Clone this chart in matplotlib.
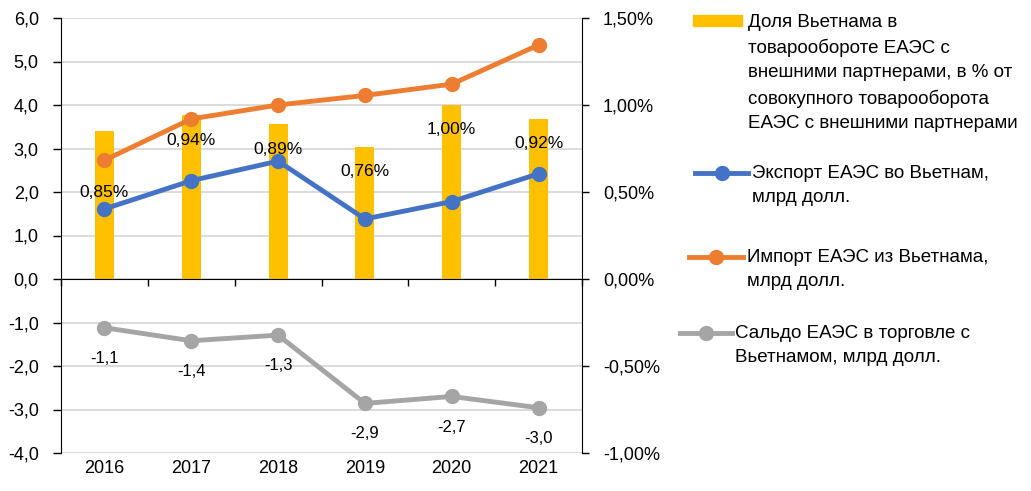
import numpy as np
import matplotlib
matplotlib.use("Agg")
import matplotlib.pyplot as plt
from matplotlib.lines import Line2D
from matplotlib.patches import Rectangle
from matplotlib.ticker import FuncFormatter

plt.rcParams['font.family'] = ['Liberation Sans', 'DejaVu Sans']

years = ['2016', '2017', '2018', '2019', '2020', '2021']
export_bn = [1.61, 2.26, 2.71, 1.38, 1.78, 2.42]     # экспорт ЕАЭС во Вьетнам
import_bn = [2.73, 3.68, 4.00, 4.22, 4.48, 5.38]     # импорт ЕАЭС из Вьетнама
balance_bn = [-1.12, -1.42, -1.29, -2.86, -2.70, -2.96]
share_pct = [0.85, 0.94, 0.89, 0.76, 1.00, 0.92]      # доля Вьетнама, %

YELLOW = '#FFC000'
BLUE = '#4472C4'
ORANGE = '#ED7D31'
GRAY = '#A5A5A5'
GRID = '#D9D9D9'


def comma(v, fmt):
    return format(v, fmt).replace('.', ',')


fig = plt.figure(figsize=(10.31, 4.91), dpi=100)
W, H = 1031, 491
ax = fig.add_axes([61 / W, (H - 453) / H, 521 / W, 435 / H])
ax2 = ax.twinx()
ax.set_zorder(ax2.get_zorder() + 1)
ax.patch.set_visible(False)

x = np.arange(len(years))

# bars on the right (percent) axis
ax2.bar(x, share_pct, width=0.22, color=YELLOW, zorder=2)
ax2.set_ylim(-1.0, 1.5)
ax2.set_yticks(np.arange(-1.0, 1.51, 0.5))
ax2.set_yticks(np.arange(-1.0, 1.51, 0.25), minor=True)
ax2.yaxis.set_major_formatter(FuncFormatter(lambda v, p: comma(v, '.2f') + '%'))
ax2.grid(axis='y', which='both', color=GRID, linewidth=1.3)
ax2.set_axisbelow(True)
ax2.tick_params(axis='y', which='major', direction='out', length=5, width=1,
                pad=10, labelsize=13, colors='black')
ax2.tick_params(axis='y', which='minor', length=0)
for s in ['top', 'bottom', 'left']:
    ax2.spines[s].set_visible(False)
ax2.spines['right'].set_color('black')

dy = [-44, -18, -18, -18, -18, -18]
for i, v in enumerate(share_pct):
    ax2.annotate(comma(v, '.2f') + '%', (x[i], v), xytext=(0, dy[i]),
                 textcoords='offset points', ha='center', va='center',
                 fontsize=12.5, zorder=3)

# lines on the left axis
line_kw = dict(linewidth=3.5, marker='o', markersize=10, solid_capstyle='round')
ax.plot(x, export_bn, color=BLUE, **line_kw)
ax.plot(x, import_bn, color=ORANGE, **line_kw)
ax.plot(x, balance_bn, color=GRAY, **line_kw)
for i, v in enumerate(balance_bn):
    ax.annotate(comma(v, '.1f'), (x[i], v), xytext=(0, -22),
                textcoords='offset points', ha='center', va='center',
                fontsize=12)

ax.set_xlim(-0.5, 5.5)
ax.set_ylim(-4, 6)
ax.set_yticks(np.arange(-4, 6.1, 1))
ax.yaxis.set_major_formatter(FuncFormatter(lambda v, p: comma(v, '.1f')))
ax.tick_params(axis='y', direction='out', length=6, width=1, pad=10,
               labelsize=13, colors='black')

ax.set_xticks(np.arange(-0.5, 5.6, 1))
ax.set_xticklabels([])
ax.tick_params(axis='x', direction='out', length=5, width=1, colors='black')
ax.spines['bottom'].set_position(('data', 0))
ax.spines['bottom'].set_color('black')
ax.spines['left'].set_color('black')
ax.spines['top'].set_visible(False)
ax.spines['right'].set_visible(False)

for i, y in enumerate(years):
    ax.annotate(y, (x[i], 0), xycoords=ax.get_xaxis_transform(),
                xytext=(0, -5), textcoords='offset points',
                ha='center', va='top', fontsize=13)

# legend on the right
def fx(px):
    return px / W


def fy(py):
    return (H - py) / H


fig.patches.append(Rectangle((fx(693), fy(26)), fx(742) - fx(693), fy(15) - fy(26),
                             transform=fig.transFigure, color=YELLOW))
keys = [(695, 748, 173, BLUE), (689, 743, 257, ORANGE), (680, 732, 333, GRAY)]
for x0, x1, yy, c in keys:
    fig.add_artist(Line2D([fx(x0), fx(x1)], [fy(yy), fy(yy)], color=c,
                          linewidth=3.5, transform=fig.transFigure))
    fig.add_artist(Line2D([fx((x0 + x1) / 2)], [fy(yy)], color=c, marker='o',
                          markersize=10, transform=fig.transFigure))

labels = [
    (748, 22, 'Доля Вьетнама в\nтоварообороте ЕАЭС с\nвнешними партнерами, в % от\n'
              'совокупного товарооборота\nЕАЭС с внешними партнерами'),
    (752, 173, 'Экспорт ЕАЭС во Вьетнам,\nмлрд долл.'),
    (747, 257, 'Импорт ЕАЭС из Вьетнама,\nмлрд долл.'),
    (735, 333, 'Сальдо ЕАЭС в торговле с\nВьетнамом, млрд долл.'),
]
for px, py, t in labels:
    fig.text(fx(px), fy(py - 8), t, ha='left', va='top', fontsize=13.5,
             linespacing=1.55)

fig.savefig('out.png', dpi=100, facecolor='white')
